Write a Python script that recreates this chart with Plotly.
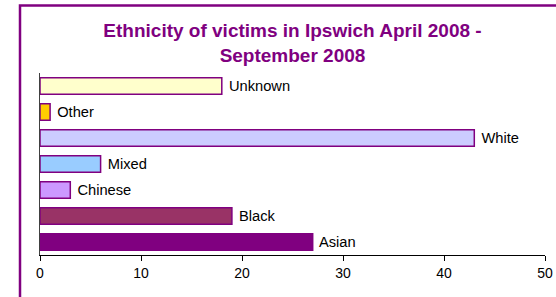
import plotly.graph_objects as go

categories = ["Unknown", "Other", "White", "Mixed", "Chinese", "Black", "Asian"]
values = [18, 1, 43, 6, 3, 19, 27]
colors = ["#FFFFCC", "#FFCC00", "#CCCCFF", "#99CCFF", "#CC99FF", "#993366", "#800080"]
tick_vals = [0, 10, 20, 30, 40, 50]

W, H = 556, 297
ml, mr, mt, mb = 40, 11, 73, 42
pw = W - ml - mr
ph = H - mt - mb

fig = go.Figure(go.Bar(
    y=categories, x=values, orientation="h",
    marker=dict(color=colors, line=dict(color="#800080", width=1.5)),
    text=categories, texttemplate=" %{text}", textposition="outside",
    textfont=dict(family="Liberation Sans, Arial", size=15, color="black"),
    cliponaxis=False, width=0.64,
))

fig.update_layout(
    width=W, height=H,
    margin=dict(l=ml, r=mr, t=mt, b=mb, autoexpand=False),
    paper_bgcolor="white", plot_bgcolor="white",
    showlegend=False,
    title=dict(
        text="Ethnicity of victims in Ipswich April 2008 -<br>September 2008",
        x=(ml + pw / 2) / W, xanchor="center", y=1 - 37 / H, yanchor="top",
        font=dict(family="Liberation Sans, Arial", size=19, color="#800080", weight="bold"),
    ),
    xaxis=dict(
        range=[0, 50], tickvals=tick_vals, showgrid=False, zeroline=False,
        showline=True, linecolor="black", linewidth=1, automargin=False,
        ticks="outside", ticklen=5, tickcolor="black",
        tickfont=dict(family="Liberation Sans, Arial", size=14, color="black"),
    ),
    yaxis=dict(
        autorange="reversed", showticklabels=False, showgrid=False, zeroline=False,
        showline=True, linecolor="#404040", linewidth=1, ticks="", automargin=False,
    ),
)

fig.add_shape(
    type="rect", xref="paper", yref="paper",
    x0=(20 - ml) / pw, x1=1 + 40 / pw,
    y0=-60 / ph, y1=1 + (mt - 5.5) / ph,
    line=dict(color="#800080", width=2.5), layer="below",
)

fig.write_html("out.html", config={"displayModeBar": False},
               post_script="document.body.style.margin='0';")
